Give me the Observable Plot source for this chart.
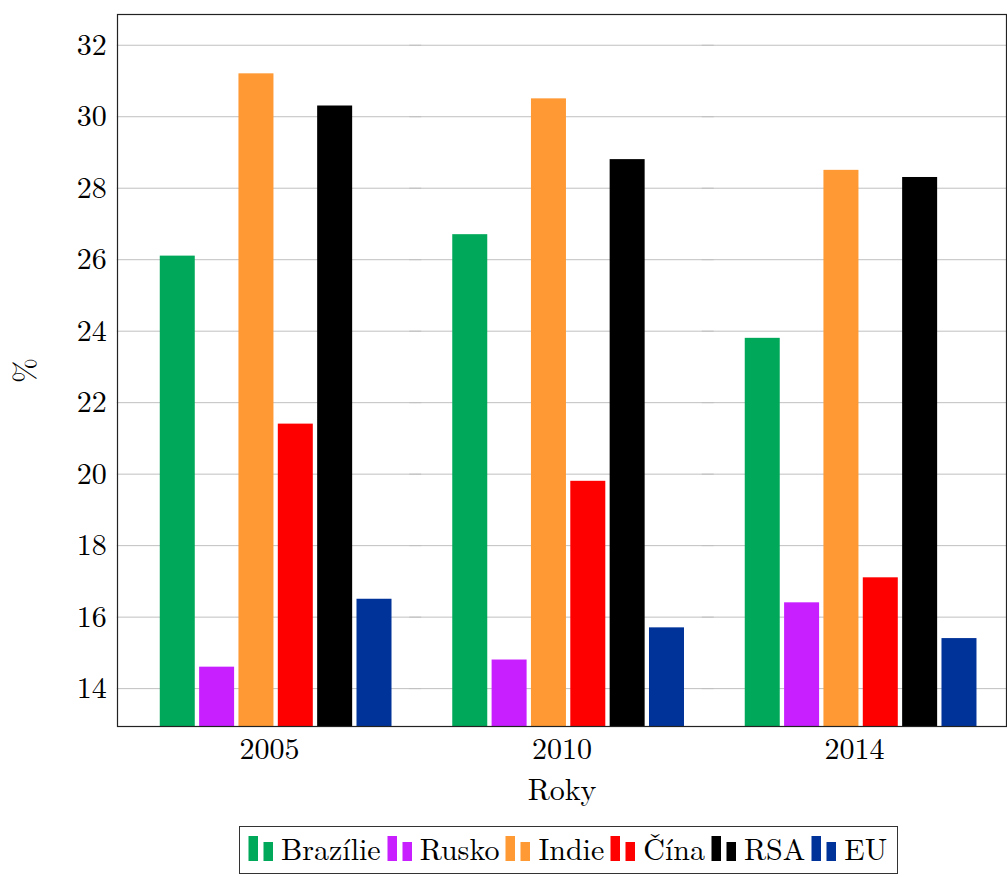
<!DOCTYPE html>
<html>
<head>
<meta charset="utf-8">
<script src="https://cdn.jsdelivr.net/npm/d3@7"></script>
<script src="https://cdn.jsdelivr.net/npm/@observablehq/plot@0.6"></script>
<style>
  body { margin: 0; background: #fff; font-family: "Latin Modern Roman", "Liberation Serif", serif; }
  #chart svg, #chart svg text { font-family: "Latin Modern Roman", "Liberation Serif", serif !important; }
  #legend {
    display: inline-flex; align-items: flex-end;
    margin-left: 239px; margin-top: 8px;
    border: 1px solid #333; padding: 6px 10px 10px 8px;
    font-family: "Latin Modern Roman", "Liberation Serif", serif;
    font-size: 30px; line-height: 30px; color: #000;
  }
  #legend .item { display: inline-flex; align-items: flex-end; margin-right: 6px; }
  #legend .item:last-child { margin-right: 0; }
  #legend svg { margin-right: 7px; margin-bottom: 2px; }
</style>
</head>
<body>
<div id="chart"></div>
<div id="legend"></div>
<script>
const years = ["2005", "2010", "2014"];
const series = ["Brazílie", "Rusko", "Indie", "Čína", "RSA", "EU"];
const colors = ["#00a85a", "#c71fff", "#ff9933", "#ff0000", "#000000", "#003399"];
const brazilie = [26.1, 26.7, 23.8];
const rusko    = [14.6, 14.8, 16.4];
const indie    = [31.2, 30.5, 28.5];
const cina     = [21.4, 19.8, 17.1];
const rsa      = [30.3, 28.8, 28.3];
const eu       = [16.5, 15.7, 15.4];
const yTicks = [14, 16, 18, 20, 22, 24, 26, 28, 30, 32];
const yDomain = [12.94, 32.86];

const valuesBySeries = [brazilie, rusko, indie, cina, rsa, eu];
const rows = [];
years.forEach((yr, i) => {
  series.forEach((s, j) => rows.push({year: yr, series: s, value: valuesBySeries[j][i]}));
});

const chart = Plot.plot({
  width: 1007,
  height: 818,
  marginTop: 14,
  marginBottom: 92,
  marginLeft: 117,
  marginRight: 1,
  style: "font-family: 'Latin Modern Roman', 'Liberation Serif', serif; font-size: 30px; color: #000; background: #fff;",
  fx: {domain: years, paddingInner: 0, paddingOuter: 0.0197, align: 0.5, round: false,
       label: "Roky", labelArrow: "none", tickSize: 0, tickPadding: 11, labelAnchor: "center", labelOffset: 73},
  x: {domain: series, paddingInner: 0.1105, paddingOuter: 0.772, align: 0.609, round: false, axis: null},
  y: {domain: yDomain, ticks: yTicks, tickSize: 0, tickPadding: 16.5,
      label: "%", labelArrow: "none", labelAnchor: "center", labelOffset: 109.5},
  color: {domain: series, range: colors},
  marks: [
    Plot.gridY(yTicks, {stroke: "#c0c0c0", strokeOpacity: 1, insetLeft: -6, insetRight: -6}),
    Plot.barY(rows, {fx: "year", x: "series", y: "value", fill: "series", clip: true}),
    Plot.frame({facet: "super", stroke: "#222", strokeWidth: 1.2, insetLeft: -5.76, insetRight: -5.76})
  ]
});
document.getElementById("chart").appendChild(chart);

const legend = document.getElementById("legend");
series.forEach((s, j) => {
  const item = document.createElement("span");
  item.className = "item";
  item.innerHTML =
    `<svg width="26" height="25" viewBox="0 0 26 25">` +
    `<rect x="0.5" y="0" width="9.5" height="25" fill="${colors[j]}"/>` +
    `<rect x="15.5" y="6" width="9.5" height="19" fill="${colors[j]}"/></svg>` +
    `<span>${s}</span>`;
  legend.appendChild(item);
});
</script>
</body>
</html>
